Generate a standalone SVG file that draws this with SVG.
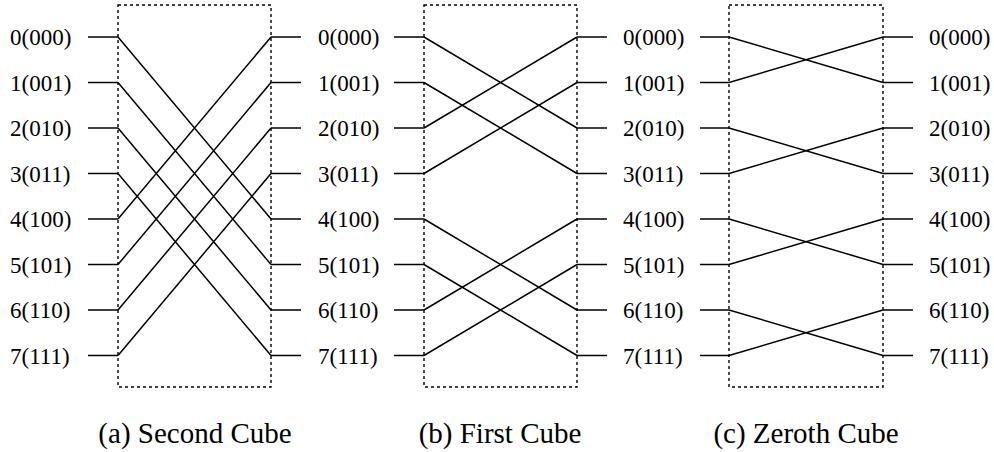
<svg xmlns="http://www.w3.org/2000/svg" width="994" height="452" viewBox="0 0 994 452">
<style>
text{font-family:"Liberation Serif","Times New Roman",Times,serif;fill:#000}
.lbl{font-size:23px}
.cap{font-size:29px;text-anchor:middle}
.box{fill:none;stroke:#000;stroke-width:1.4;stroke-dasharray:3,3}
.w{stroke:#000;stroke-width:1.5;fill:none}
</style>
<rect width="994" height="452" fill="#fff"/>
<g id="labels">
<g id="col0">
<text class="lbl" x="10" y="45">0(000)</text>
<text class="lbl" x="10" y="90.5">1(001)</text>
<text class="lbl" x="10" y="136">2(010)</text>
<text class="lbl" x="10" y="181.5">3(011)</text>
<text class="lbl" x="10" y="227">4(100)</text>
<text class="lbl" x="10" y="272.5">5(101)</text>
<text class="lbl" x="10" y="318">6(110)</text>
<text class="lbl" x="10" y="363.5">7(111)</text>
</g>
<g id="col1">
<text class="lbl" x="318" y="45">0(000)</text>
<text class="lbl" x="318" y="90.5">1(001)</text>
<text class="lbl" x="318" y="136">2(010)</text>
<text class="lbl" x="318" y="181.5">3(011)</text>
<text class="lbl" x="318" y="227">4(100)</text>
<text class="lbl" x="318" y="272.5">5(101)</text>
<text class="lbl" x="318" y="318">6(110)</text>
<text class="lbl" x="318" y="363.5">7(111)</text>
</g>
<g id="col2">
<text class="lbl" x="623" y="45">0(000)</text>
<text class="lbl" x="623" y="90.5">1(001)</text>
<text class="lbl" x="623" y="136">2(010)</text>
<text class="lbl" x="623" y="181.5">3(011)</text>
<text class="lbl" x="623" y="227">4(100)</text>
<text class="lbl" x="623" y="272.5">5(101)</text>
<text class="lbl" x="623" y="318">6(110)</text>
<text class="lbl" x="623" y="363.5">7(111)</text>
</g>
<g id="col3">
<text class="lbl" x="929" y="45">0(000)</text>
<text class="lbl" x="929" y="90.5">1(001)</text>
<text class="lbl" x="929" y="136">2(010)</text>
<text class="lbl" x="929" y="181.5">3(011)</text>
<text class="lbl" x="929" y="227">4(100)</text>
<text class="lbl" x="929" y="272.5">5(101)</text>
<text class="lbl" x="929" y="318">6(110)</text>
<text class="lbl" x="929" y="363.5">7(111)</text>
</g>
</g>
<g id="panel-a">
<rect class="box" x="118" y="5" width="153" height="382"/>
<text class="cap" x="195" y="443">(a) Second Cube</text>
</g>
<g id="panel-b">
<rect class="box" x="424" y="5" width="153" height="382"/>
<text class="cap" x="500" y="443">(b) First Cube</text>
</g>
<g id="panel-c">
<rect class="box" x="729" y="5" width="154" height="382"/>
<text class="cap" x="806" y="443">(c) Zeroth Cube</text>
</g>
<g id="connectors" class="w">
<path d="M88 37H118M88 82.5H118M88 128H118M88 173.5H118M88 219H118M88 264.5H118M88 310H118M88 355.5H118"/>
<path d="M271 37H301M271 82.5H301M271 128H301M271 173.5H301M271 219H301M271 264.5H301M271 310H301M271 355.5H301"/>
<path d="M394 37H424M394 82.5H424M394 128H424M394 173.5H424M394 219H424M394 264.5H424M394 310H424M394 355.5H424"/>
<path d="M577 37H607M577 82.5H607M577 128H607M577 173.5H607M577 219H607M577 264.5H607M577 310H607M577 355.5H607"/>
<path d="M700 37H729M700 82.5H729M700 128H729M700 173.5H729M700 219H729M700 264.5H729M700 310H729M700 355.5H729"/>
<path d="M883 37H913M883 82.5H913M883 128H913M883 173.5H913M883 219H913M883 264.5H913M883 310H913M883 355.5H913"/>
<path d="M118 37L271 219M118 82.5L271 264.5M118 128L271 310M118 173.5L271 355.5M118 219L271 37M118 264.5L271 82.5M118 310L271 128M118 355.5L271 173.5"/>
<path d="M424 37L577 128M424 82.5L577 173.5M424 128L577 37M424 173.5L577 82.5M424 219L577 310M424 264.5L577 355.5M424 310L577 219M424 355.5L577 264.5"/>
<path d="M729 37L883 82.5M729 82.5L883 37M729 128L883 173.5M729 173.5L883 128M729 219L883 264.5M729 264.5L883 219M729 310L883 355.5M729 355.5L883 310"/>
</g>
</svg>
